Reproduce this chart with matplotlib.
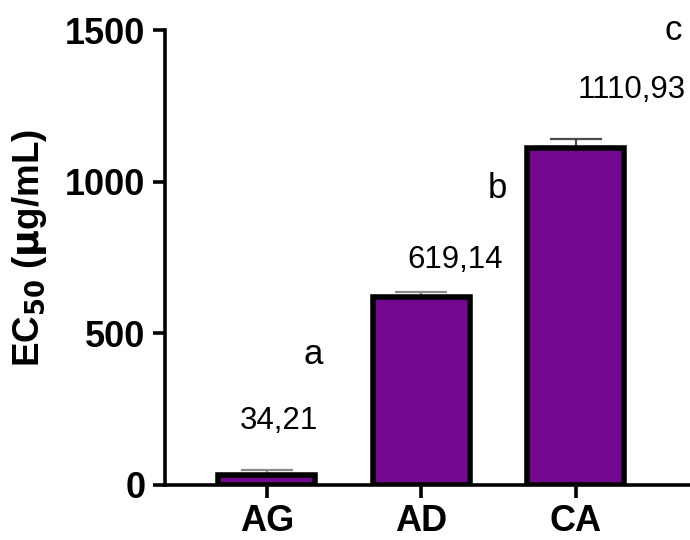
import matplotlib
matplotlib.use("Agg")
import matplotlib.pyplot as plt

# EC50 values per extract
categories = ["AG", "AD", "CA"]
ec50 = [34.21, 619.14, 1110.93]
ec50_err = [14, 16, 30]
value_labels = ["34,21", "619,14", "1110,93"]
group_letters = ["a", "b", "c"]
yticks = [0, 500, 1000, 1500]

plt.rcParams["font.family"] = ["Liberation Sans", "DejaVu Sans"]

fig = plt.figure(figsize=(6.9, 5.4), dpi=100)
ax = fig.add_axes([0.239, 0.102, 0.761, 0.842])

bar_color = "#73088F"
x = list(range(len(categories)))
ax.bar(x, ec50, width=0.63, color=bar_color, edgecolor="black",
       linewidth=4.0, zorder=2)

err_colors = ["#8a8a8a", "#8a8a8a", "#4a4a4a"]
for xi, v, e, c in zip(x, ec50, ec50_err, err_colors):
    ax.errorbar(xi, v, yerr=[[0], [e]], fmt="none", ecolor=c,
                elinewidth=1.6, capsize=18.5, capthick=1.6, zorder=1)

# value labels and significance letters
label_pos = [(0.08, 211), (1.22, 742), (2.36, 1302)]
letter_pos = [(0.30, 429), (1.49, 979), (2.63, 1500)]
for (lx, ly), t in zip(label_pos, value_labels):
    ax.text(lx, ly, t, ha="center", va="center", fontsize=22.5, clip_on=False)
for (lx, ly), t in zip(letter_pos, group_letters):
    ax.text(lx, ly, t, ha="center", va="center", fontsize=25, clip_on=False)

ax.set_xlim(-0.66, 2.74)
ax.set_ylim(0, 1500)
ax.set_yticks(yticks)
ax.set_xticks(x)
ax.set_xticklabels(categories)

for s in ["top", "right"]:
    ax.spines[s].set_visible(False)
for s in ["left", "bottom"]:
    ax.spines[s].set_linewidth(2.6)

ax.tick_params(axis="both", direction="out", length=9, width=2.6,
               labelsize=26, pad=5)
for lab in ax.get_xticklabels() + ax.get_yticklabels():
    lab.set_fontweight("bold")

ax.set_ylabel(r"EC$_{\mathbf{50}}$ ($\mathbf{\mu}$g/mL)", fontsize=26.5,
              fontweight="bold", va="center")
ax.yaxis.set_label_coords(-0.257, 0.522)

fig.savefig("out.png", dpi=100)
